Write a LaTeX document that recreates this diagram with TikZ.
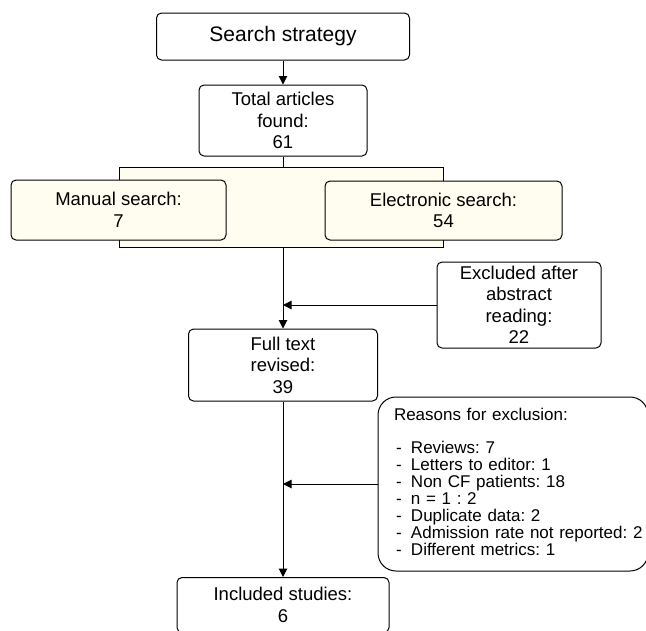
\documentclass[tikz,border=0pt]{standalone}
\usepackage{fontspec}
\setmainfont{Liberation Sans}
\usetikzlibrary{arrows.meta}
\definecolor{paleyellow}{HTML}{FFFDEF}
\newcommand{\excl}[1]{\makebox[17pt][l]{\hspace{2pt}-}#1}
\frenchspacing

\begin{document}
\begin{tikzpicture}[x=1pt,y=-1pt,
  box/.style={draw,rounded corners=5pt,line width=1pt,align=center,inner sep=0pt,font=\fontsize{18.5}{21.5}\selectfont},
  link/.style={line width=1pt,-{Triangle[length=8.5pt,width=8.5pt]}}]
\useasboundingbox (0,0) rectangle (646,630);
\clip (0,0) rectangle (646,630);
\node[box,minimum width=253pt,minimum height=47pt,font=\fontsize{21}{25}\selectfont] (search) at (283,36.5) {Search strategy};
\node[box,minimum width=168pt,minimum height=71pt] (total) at (283,120.5) {Total articles\\found:\\61};
\node[draw,fill=paleyellow,line width=1pt,minimum width=324pt,minimum height=80pt,inner sep=0pt] (sources) at (281,207) {};
\node[box,fill=paleyellow,minimum width=215pt,minimum height=60pt] (manual) at (118.5,210) {Manual search:\\7};
\node[box,fill=paleyellow,minimum width=237pt,minimum height=59pt] (electronic) at (443.5,210.5) {Electronic search:\\54};
\node[box,minimum width=164pt,minimum height=86pt] (excluded) at (519,305) {Excluded after\\abstract\\reading:\\22};
\node[box,minimum width=189pt,minimum height=72pt] (full) at (283,365) {Full text\\revised:\\39};
\node[box,rounded corners=18pt,align=left,text width=270pt,minimum height=174pt,font=\fontsize{17}{16}\selectfont] (reasons) at (513,484)
  {\hspace*{16pt}\raisebox{4.5pt}{\begin{tabular}{@{}l@{}}Reasons for exclusion:\\ \\
  \excl{Reviews: 7}\\
  \excl{Letters to editor: 1}\\
  \excl{Non CF patients: 18}\\
  \excl{n = 1 : 2}\\
  \excl{Duplicate data: 2}\\
  \excl{Admission rate not reported: 2}\\
  \excl{Different metrics: 1}\end{tabular}}};
\node[box,minimum width=212pt,minimum height=55pt,anchor=north] (included) at (283,577) {Included studies:\\6};
\draw[link] (search) -- (total);
\draw[line width=1pt] (total) -- (total.south |- sources.north);
\draw[link] (total.south |- sources.south) -- (full);
\draw[link] (excluded.west) -- (excluded.west -| full.north);
\draw[link] (full) -- (included);
\draw[link] (reasons.west) -- (reasons.west -| full.south);
\end{tikzpicture}
\end{document}
